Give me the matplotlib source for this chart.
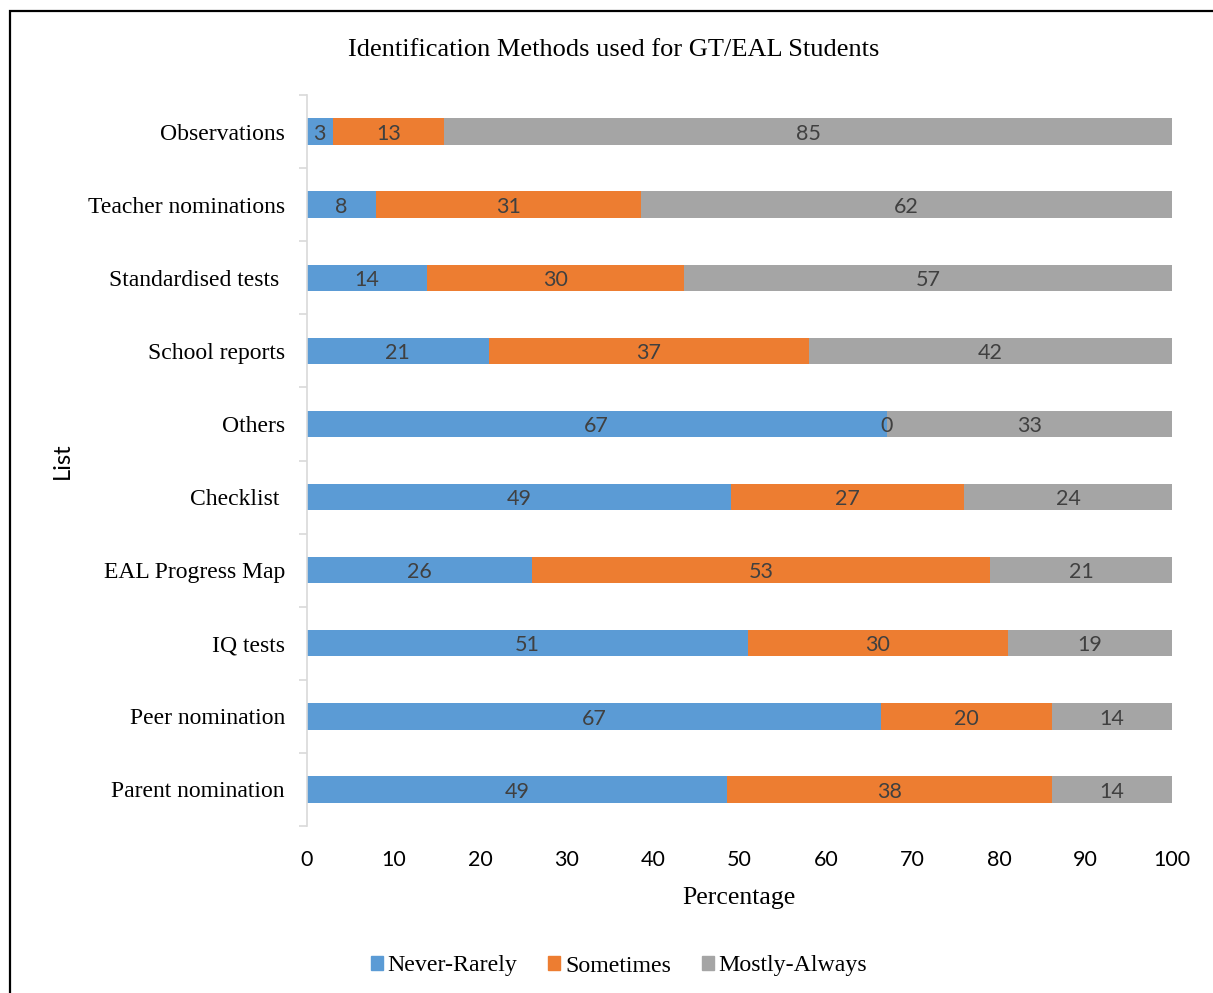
import numpy as np
import matplotlib.pyplot as plt
from matplotlib.patches import Rectangle, Patch

# survey responses per identification method (percent, top row first)
methods = ["Observations", "Teacher nominations", "Standardised tests ", "School reports",
           "Others", "Checklist ", "EAL Progress Map", "IQ tests", "Peer nomination",
           "Parent nomination"]
never_rarely = [3, 8, 14, 21, 67, 49, 26, 51, 67, 49]
sometimes = [13, 31, 30, 37, 0, 27, 53, 30, 20, 38]
mostly_always = [85, 62, 57, 42, 33, 24, 21, 19, 14, 14]

series = [("Never-Rarely", never_rarely, "#5B9BD5"),
          ("Sometimes", sometimes, "#ED7D31"),
          ("Mostly-Always", mostly_always, "#A5A5A5")]

serif = "Liberation Serif"
sans = "Lato"

W, H = 1213, 993
fig = plt.figure(figsize=(W / 100, H / 100), dpi=100)
ax = fig.add_axes([307 / W, 1 - 826 / H, (1172 - 307) / W, (826 - 95) / H])

vals = np.array([never_rarely, sometimes, mostly_always], dtype=float)
totals = vals.sum(axis=0)
pct = vals / totals * 100   # 100% stacked
y = np.arange(len(methods))
left = np.zeros(len(methods))
for (name, raw, color), p in zip(series, pct):
    ax.barh(y, p, left=left, height=0.36, color=color, edgecolor="none", label=name)
    for yi, l, w, r in zip(y, left, p, raw):
        ax.text(l + w / 2, yi + 0.03, str(r), ha="center", va="center",
                fontsize=15.5, color="#404040", family=sans)
    left += p

ax.set_xlim(0, 100)
ax.set_ylim(len(methods) - 0.5, -0.5)
ax.set_xticks(np.arange(0, 101, 10))
ax.tick_params(axis="x", length=0, pad=17, labelsize=15.5)
for lab in ax.get_xticklabels():
    lab.set_family(sans)
ax.set_yticks(y)
ax.set_yticklabels(methods, family=serif, fontsize=17)
ax.set_yticks(np.arange(-0.5, len(methods)), minor=True)
ax.tick_params(axis="y", which="major", length=0, pad=16)
ax.tick_params(axis="y", which="minor", length=6, width=1.2, color="#D9D9D9")
for s in ["top", "right", "bottom"]:
    ax.spines[s].set_visible(False)
ax.spines["left"].set_color("#D9D9D9")
ax.spines["left"].set_linewidth(1.2)

fig.text(614 / W, 1 - 50 / H, "Identification Methods used for GT/EAL Students",
         ha="center", va="center", family=serif, fontsize=19)
fig.text(739 / W, 1 - 898 / H, "Percentage", ha="center", va="center",
         family=serif, fontsize=18.5)
fig.text(62 / W, 1 - 461 / H, "List", ha="center", va="center", rotation=90,
         family=sans, fontsize=17)

handles = [Patch(color=c, label=n) for n, _, c in series]
fig.legend(handles=handles, loc="center", bbox_to_anchor=(619 / W, 1 - 966 / H),
           ncol=3, frameon=False, prop={"family": serif, "size": 17.2},
           handlelength=0.5, handleheight=0.5, handletextpad=0.2, columnspacing=1.3)

# outer frame
fig.add_artist(Rectangle((10 / W, -0.1), 2, 1.1 - 11 / H, transform=fig.transFigure,
                         fill=False, edgecolor="black", linewidth=1.6, clip_on=False))

fig.savefig("out.png", dpi=100)
